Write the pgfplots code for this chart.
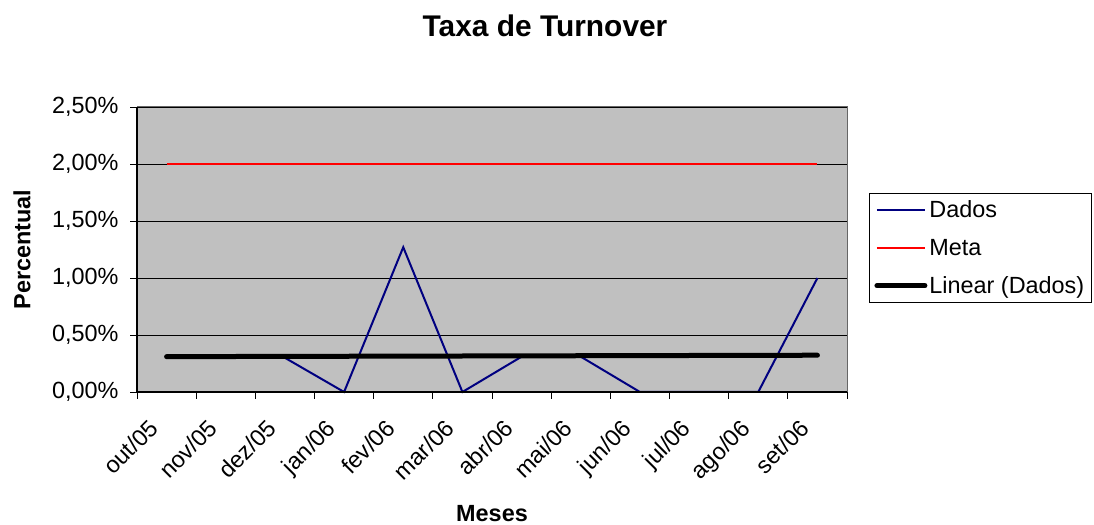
\documentclass[border=0pt]{standalone}
\usepackage{fontspec}
\setmainfont{Liberation Sans}
\usepackage{pgfplots}
\pgfplotsset{compat=1.18}
\definecolor{dados}{RGB}{0,0,128}
\definecolor{plotbg}{RGB}{192,192,192}
\begin{document}
\begin{tikzpicture}[x=1bp,y=1bp]
\useasboundingbox (0,0) rectangle (1094,525);
\node[font=\fontsize{30}{35}\selectfont\bfseries] at (545,499) {Taxa de Turnover};
\begin{axis}[
  at={(137bp,133bp)}, anchor=south west,
  scale only axis, width=710bp, height=285bp,
  xmin=0.5, xmax=12.5, ymin=0, ymax=2.5,
  clip=false,
  axis background/.style={fill=plotbg},
  axis line style={draw=gray!80!black, line width=1bp},
  xtick={1,...,12},
  xticklabels={out/05,nov/05,dez/05,jan/06,fev/06,mar/06,abr/06,mai/06,jun/06,jul/06,ago/06,set/06},
  minor xtick={0.5,1.5,...,12.5},
  major x tick style={draw=none},
  minor tick style={black, line width=0.8bp},
  major tick style={black, line width=0.8bp},
  major tick length=7bp, minor tick length=7bp,
  tick align=outside,
  xtick pos=left, ytick pos=left,
  ytick={0,0.5,1,1.5,2,2.5},
  yticklabels={{0,00\%},{0,50\%},{1,00\%},{1,50\%},{2,00\%},{2,50\%}},
  ymajorgrids,
  major grid style={black, line width=0.8bp},
  ticklabel style={font=\fontsize{23.5}{28}\selectfont},
  yticklabel style={xshift=-8bp},
  xticklabel style={xshift=-19bp, yshift=-14bp, rotate=45, anchor=north east},
  xlabel={Meses}, ylabel={Percentual},
  every axis x label/.style={at={(axis description cs:0.5,-0.425)}, anchor=center,
    font=\fontsize{23.5}{28}\selectfont\bfseries},
  every axis y label/.style={at={(axis description cs:-0.162,0.5)}, rotate=90, anchor=center,
    font=\fontsize{23.5}{28}\selectfont\bfseries},
  legend style={at={(rel axis cs:1.031,0.698)}, anchor=north west, draw=black,
    line width=0.8bp, font=\fontsize{23.5}{28}\selectfont, inner sep=5bp, row sep=16bp},
  legend cell align=left,
  legend image code/.code={\draw[#1] (0bp,0bp) -- (48bp,0bp);},
]
\addplot[dados, line width=2bp] coordinates {
  (1,0.30) (2,0.30) (3,0.30) (4,0) (5,1.27) (6,0)
  (7,0.31) (8,0.31) (9,0) (10,0) (11,0) (12,1.00)
};
\addlegendentry{Dados}
\addplot[red, line width=2bp] coordinates {
  (1,2) (2,2) (3,2) (4,2) (5,2) (6,2) (7,2) (8,2) (9,2) (10,2) (11,2) (12,2)
};
\addlegendentry{Meta}
\addplot[black, line width=5bp, line cap=round] coordinates {
  (1,0.310) (12,0.3226)
};
\addlegendentry{Linear (Dados)}
\draw[black, line width=1.2bp] (rel axis cs:0,1) -- (rel axis cs:0,0) -- (rel axis cs:1,0);
\end{axis}
\end{tikzpicture}
\end{document}
